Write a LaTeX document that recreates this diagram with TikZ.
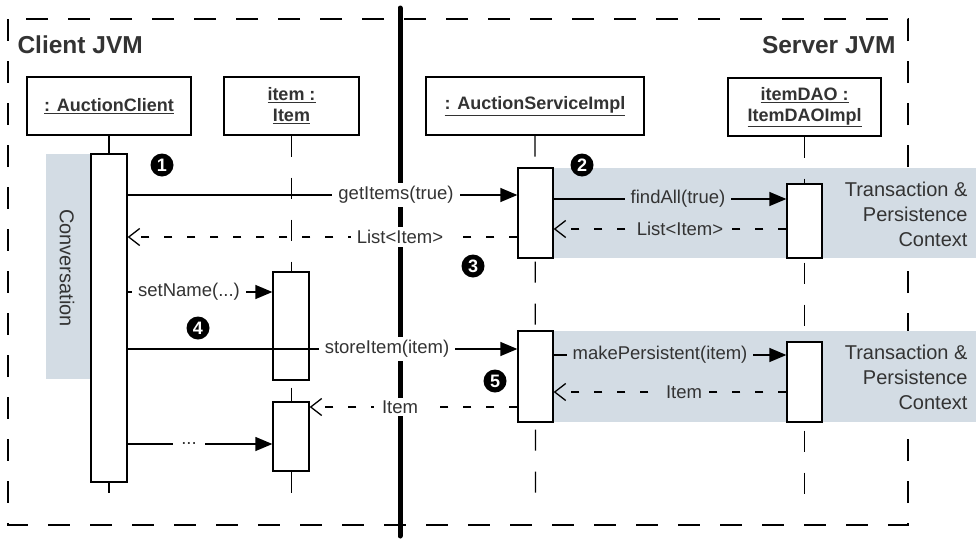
\documentclass[tikz,border=0pt]{standalone}
\usepackage{fontspec}
\setmainfont{Liberation Sans}
\usetikzlibrary{arrows.meta}
\definecolor{bgshade}{HTML}{D3DCE4}
\definecolor{txt}{HTML}{333333}
\begin{document}
\begin{tikzpicture}[x=1pt,y=-1pt,
  obj/.style={draw, line width=1.3pt, fill=white, minimum height=58pt, inner sep=0pt, align=center, font=\fontsize{18}{21}\selectfont\bfseries, text=txt},
  act/.style={draw, line width=1.3pt, fill=white, inner sep=0pt},
  life/.style={line width=1.3pt, dash pattern=on 21pt off 21pt},
  msg/.style={line width=1.3pt, -{Triangle[length=17pt,width=14pt]}},
  ret/.style={line width=1.3pt, dash pattern=on 8pt off 15pt, -{Straight Barb[length=11pt,width=17pt,line width=1.3pt]}},
  lbl/.style={fill=white, inner ysep=3pt, inner xsep=6pt, text=txt, font=\fontsize{18.5}{22}\selectfont},
  slbl/.style={lbl, fill=bgshade},
  num/.style={circle, fill=black, text=white, inner sep=0pt, minimum size=23pt, font=\fontsize{18}{18}\selectfont\bfseries},
  frame/.style={line width=1.3pt, dash pattern=on 22pt off 20pt}
]
\useasboundingbox (0,0) rectangle (976,538);
% frame
\draw[frame] (8,19) rectangle (908,525);
% shades
\fill[bgshade] (46,154) rectangle (91,379);
\fill[bgshade] (553,168) rectangle (976,258);
\fill[bgshade] (553,331) rectangle (976,422);
% separator
\coordinate (sepT) at (400,8);
\coordinate (sepB) at (400,536);
\draw[line width=5pt, line cap=round] (sepT) -- (sepB);
% titles
\node[anchor=west, text=txt, font=\fontsize{24.5}{28}\selectfont\bfseries] (cjvm) at (14,45) {Client JVM};
\node[anchor=east, text=txt, font=\fontsize{24.5}{28}\selectfont\bfseries] (sjvm) at (899,45) {Server JVM};
% objects
\node[obj, minimum width=164pt] (ac) at (109,106) {\underline{: AuctionClient}};
\node[obj, minimum width=135pt] (it) at (291.5,106) {\underline{item :}\\\underline{Item}};
\node[obj, minimum width=218pt] (as) at (535,106) {\underline{: AuctionServiceImpl}};
\node[obj, minimum width=153pt] (dao) at (804.5,107) {\underline{itemDAO :}\\\underline{ItemDAOImpl}};
% lifelines
\coordinate (acE) at (109,498);
\coordinate (itE) at (291.5,498);
\coordinate (asE) at (535.5,500);
\coordinate (daoE) at (804.5,500);
\draw[life] (ac.south) -- (acE);
\draw[life] (it.south) -- (itE);
\draw[life] (as.south) -- (asE);
\draw[life] (dao.south) -- (daoE);
% conversation
\node[rotate=-90, text=txt, font=\fontsize{20}{24}\selectfont] (conv) at (67,268) {Conversation};
\node[text=txt, align=right, anchor=east, font=\fontsize{20}{25}\selectfont] (tp1) at (971,214) {Transaction \&\\Persistence\\Context};
\node[text=txt, align=right, anchor=east, font=\fontsize{20}{25}\selectfont] (tp2) at (971,377) {Transaction \&\\Persistence\\Context};
% activations
\node[act, minimum width=36pt, minimum height=328pt] (a1) at (109,318) {};
\node[act, minimum width=36pt, minimum height=108pt] (i1) at (291,326) {};
\node[act, minimum width=36pt, minimum height=69pt] (i2) at (291,436.5) {};
\node[act, minimum width=35pt, minimum height=90pt] (s1) at (535.5,213) {};
\node[act, minimum width=35pt, minimum height=91pt] (s2) at (535.5,376.5) {};
\node[act, minimum width=35pt, minimum height=74pt] (d1) at (804.5,221) {};
\node[act, minimum width=35pt, minimum height=80pt] (d2) at (804.5,382) {};
% message rows
\coordinate (y1) at (0,195);
\coordinate (y2) at (0,237);
\coordinate (y3) at (0,199);
\coordinate (y4) at (0,229);
\coordinate (y5) at (0,292);
\coordinate (y6) at (0,349);
\coordinate (y7) at (0,355);
\coordinate (y8) at (0,392);
\coordinate (y9) at (0,407);
\coordinate (y10) at (0,444);
\draw[msg] (a1.east |- y1) -- (s1.west |- y1);
\draw[ret] (s1.west |- y2) -- (a1.east |- y2);
\draw[msg] (s1.east |- y3) -- (d1.west |- y3);
\draw[ret] (d1.west |- y4) -- (s1.east |- y4);
\draw[msg] (a1.east |- y5) -- (i1.west |- y5);
\draw[msg] (a1.east |- y6) -- (s2.west |- y6);
\draw[msg] (s2.east |- y7) -- (d2.west |- y7);
\draw[ret] (d2.west |- y8) -- (s2.east |- y8);
\draw[ret] (s2.west |- y9) -- (i2.east |- y9);
\draw[msg] (a1.east |- y10) -- (i2.west |- y10);
% labels
\node[lbl] (l1) at (396,195) {getItems(true)};
\node[lbl] (l2) at (400,237) {List<Item>};
\node[slbl] (l3) at (678,199) {findAll(true)};
\node[slbl] (l4) at (680,229) {List<Item>};
\node[lbl] (l5) at (189,292) {setName(...)};
\node[lbl] (l6) at (387,349) {storeItem(item)};
\node[slbl] (l7) at (660,355) {makePersistent(item)};
\node[slbl, inner xsep=3pt] (l8) at (684,392) {Item};
\node[lbl, inner xsep=8pt] (l9) at (400,407) {Item};
\node[lbl, inner xsep=8pt] (l10) at (189,444) {...};
% numbers
\node[num] (n1) at (162,165) {1};
\node[num] (n2) at (582,165) {2};
\node[num] (n3) at (473,266) {3};
\node[num] (n4) at (198,328) {4};
\node[num] (n5) at (495,381) {5};
\end{tikzpicture}
\end{document}
